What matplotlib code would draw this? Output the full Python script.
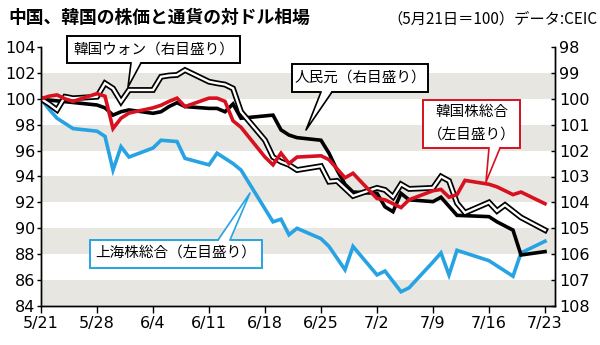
import matplotlib
matplotlib.use("Agg")
import matplotlib.pyplot as plt
from matplotlib.patches import Rectangle, Polygon

plt.rcParams['font.family'] = ['Noto Sans CJK JP', 'DejaVu Sans']

# days are counted from 5/21 (day 0)
# 上海株総合 (left scale)
sh_days = [0, 1, 2, 4, 7, 8, 9, 10, 11, 14, 15, 17, 18, 21, 22, 24, 25, 29, 30, 31,
           32, 35, 36, 38, 39, 42, 43, 45, 46, 49, 50, 51, 52, 56, 59, 60, 63]
sh_vals = [100, 99.2, 98.5, 97.7, 97.5, 97.1, 94.5, 96.3, 95.5, 96.2, 96.8, 96.7, 95.4,
           94.9, 95.8, 95.0, 94.5, 90.5, 90.7, 89.5, 90.0, 89.2, 88.6, 86.8, 88.6,
           86.4, 86.7, 85.1, 85.4, 87.4, 88.1, 86.4, 88.3, 87.5, 86.3, 88.1, 89.0]

# 韓国株総合 (left scale)
kr_days = [0, 1, 2, 3, 4, 7, 8, 9, 10, 11, 14, 15, 16, 17, 18, 21, 22, 23, 24, 25, 28,
           29, 30, 31, 32, 35, 36, 38, 39, 42, 43, 45, 46, 49, 50, 51, 52, 53, 56, 57,
           59, 60, 63]
kr_vals = [100, 100.2, 100.3, 100.0, 99.8, 100.4, 100.2, 97.7, 98.5, 98.9, 99.3, 99.5,
           99.8, 100.05, 99.4, 100.05, 100.05, 99.8, 98.3, 97.8, 95.5, 94.9, 95.8, 95.0,
           95.5, 95.6, 95.3, 93.9, 94.25, 92.3, 92.2, 91.6, 92.2, 92.9, 93.0, 92.4, 92.6,
           93.7, 93.4, 93.2, 92.6, 92.8, 91.9]

# 人民元 (right scale)
cny_days = [0, 1, 3, 7, 8, 9, 10, 11, 14, 15, 16, 17, 18, 21, 22, 23, 24, 25, 29, 30,
            31, 32, 35, 36, 37, 38, 39, 42, 43, 44, 45, 46, 49, 50, 52, 56, 57, 59, 60, 63]
cny_vals = [100, 100.05, 100.11, 100.24, 100.35, 100.63, 100.5, 100.43, 100.56, 100.5,
            100.3, 100.15, 100.3, 100.37, 100.37, 100.5, 100.2, 100.75, 100.63, 101.2,
            101.4, 101.5, 101.6, 102.1, 102.75, 103.3, 103.6, 103.65, 104.17, 104.36,
            103.65, 103.9, 103.97, 103.8, 104.5, 104.55, 104.75, 105.07, 106.03, 105.9]

# 韓国ウォン (right scale)
krw_days = [0, 1, 2, 3, 4, 7, 8, 9, 10, 11, 14, 15, 16, 17, 18, 21, 22, 23, 24, 25, 28,
            29, 30, 31, 32, 35, 36, 37, 39, 42, 43, 44, 45, 46, 49, 50, 51, 52, 53, 56,
            57, 58, 60, 63]
krw_vals = [100, 100.2, 100.43, 99.92, 99.98, 99.92, 99.4, 99.6, 100.11, 99.66, 99.66,
            99.15, 99.1, 99.08, 98.89, 99.34, 99.4, 99.45, 99.6, 100.5, 101.6, 102.25,
            102.43, 102.55, 102.75, 102.6, 103.2, 103.17, 103.75, 103.44, 103.52, 103.79,
            103.3, 103.48, 103.44, 103.0, 103.17, 104.03, 104.4, 104.0, 104.33, 104.1,
            104.58, 105.07]

tick_days = [0, 7, 14, 21, 28, 35, 42, 49, 56, 63]
tick_labels = ['5/21', '5/28', '6/4', '6/11', '6/18', '6/25', '7/2', '7/9', '7/16', '7/23']
left_ticks = [84, 86, 88, 90, 92, 94, 96, 98, 100, 102, 104]
right_ticks = [98, 99, 100, 101, 102, 103, 104, 105, 106, 107, 108]

BLUE = '#27a3e3'
RED = '#d7111f'
GRAY = '#e8e6e0'

fig = plt.figure(figsize=(6, 3.45), dpi=100)
ax = fig.add_axes([41 / 600, 39 / 345, 514 / 600, 259 / 345])
ax.set_xlim(0, 64.25)
ax.set_ylim(84, 104)

# shaded bands
for lo in left_ticks[:-1:2]:
    ax.axhspan(lo, lo + 2, color=GRAY, lw=0, zorder=0)

ax2 = ax.twinx()

# all lines go on ax2 so the drawing order can be chosen freely
ax2.plot(sh_days, sh_vals, color=BLUE, lw=2.6, transform=ax.transData,
         solid_joinstyle='miter')
ax2.plot(cny_days, cny_vals, color='black', lw=2.6, solid_joinstyle='miter')
ax2.plot(krw_days, krw_vals, color='black', lw=4.2, solid_joinstyle='miter')
ax2.plot(krw_days, krw_vals, color='white', lw=1.7, solid_joinstyle='miter')
ax2.plot(kr_days, kr_vals, color=RED, lw=2.6, transform=ax.transData,
         solid_joinstyle='miter')

ax2.set_ylim(108, 98)
ax.set_xlim(0, 64.25)
ax.set_ylim(84, 104)

for a in (ax, ax2):
    a.spines['top'].set_visible(False)
    a.spines['left'].set_linewidth(1)
    a.spines['right'].set_linewidth(1)
    a.spines['bottom'].set_linewidth(1)

ax.set_xticks(tick_days)
ax.set_xticklabels(tick_labels)
ax.set_yticks(left_ticks)
ax.set_yticklabels([str(v) for v in left_ticks])
ax2.set_yticks(right_ticks)
ax2.set_yticklabels([str(v) for v in right_ticks])

ax.tick_params(axis='x', length=5, width=1, pad=2, labelsize=11.5)
ax.tick_params(axis='y', length=3, width=1, pad=1, labelsize=11.5)
ax2.tick_params(axis='y', direction='in', length=3, width=1, pad=3, labelsize=11.5)
for lab in ax.get_xticklabels() + ax.get_yticklabels() + ax2.get_yticklabels():
    lab.set_family('DejaVu Sans')

# title
fig.text(8 / 600, 1 - 18 / 345, '中国、韓国の株価と通貨の対ドル相場', fontsize=12.8,
         fontweight='bold', va='center', ha='left')
fig.text(597 / 600, 1 - 19 / 345, '（5月21日＝100）データ:CEIC', fontsize=11,
         va='center', ha='right')

# callout boxes drawn in pixel coordinates
ov = fig.add_axes([0, 0, 1, 1], zorder=10)
ov.set_xlim(0, 600)
ov.set_ylim(345, 0)
ov.axis('off')


def callout(x0, y0, x1, y1, base, tip, edge, lines):
    ov.add_patch(Rectangle((x0, y0), x1 - x0, y1 - y0, facecolor='white',
                           edgecolor=edge, lw=1.4))
    (ba, bb), (tx, ty) = base, tip
    by = ba[1]
    inset = 1.5 if ty > by else -1.5
    ov.add_patch(Polygon([(ba[0], by - inset), (bb[0], by - inset), (tx, ty)],
                         closed=True, facecolor='white', edgecolor='none'))
    ov.plot([ba[0], tx, bb[0]], [by, ty, by], color=edge, lw=1.2)
    cx = (x0 + x1) / 2
    n = len(lines)
    h = (y1 - y0) / n
    for i, t in enumerate(lines):
        ov.text(cx, y0 + h * (i + 0.5), t, fontsize=10.5, ha='center', va='center')


callout(67, 36, 240, 63, ((131, 63), (141, 63)), (128, 87), 'black',
        ['韓国ウォン（右目盛り）'])
callout(292, 64, 428, 92, ((321, 92), (332, 92)), (306, 130), 'black',
        ['人民元（右目盛り）'])
callout(423, 100, 520, 148, ((489, 148), (500, 148)), (486, 182), RED,
        ['韓国株総合', '（左目盛り）'])
callout(90, 240, 262, 268, ((218, 240), (230, 240)), (250, 193), BLUE,
        ['上海株総合（左目盛り）'])

fig.savefig('out.png', dpi=100)
